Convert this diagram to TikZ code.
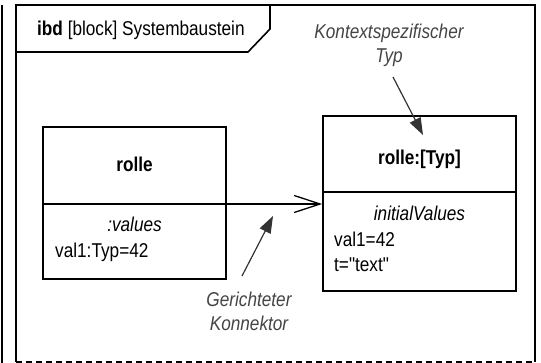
\documentclass[tikz,border=0pt]{standalone}
\usepackage{fontspec}
\setmainfont{Liberation Sans}[FakeStretch=0.86,Ligatures=TeXOff]
\usetikzlibrary{arrows.meta}
\definecolor{notegray}{HTML}{444444}
\definecolor{arrowgray}{HTML}{333333}
\begin{document}
\begin{tikzpicture}[x=1pt,y=-1pt,
  frameline/.style={line width=1.6pt,black},
  box/.style={draw,line width=1.6pt,inner sep=0pt},
  txt/.style={font=\fontsize{20}{22}\selectfont,inner sep=0pt},
  note/.style={txt,text=notegray,font=\fontsize{20}{22}\selectfont\itshape,anchor=base},
  notearrow/.style={line width=1.2pt,arrowgray,-{Triangle[length=17pt,width=12pt]}},
  connector/.style={line width=1.3pt,-{Straight Barb[length=26pt,width=17pt,line width=1.3pt]}}]
\useasboundingbox (0,0) rectangle (541,363);
% outer frame
\draw[line width=2pt] (1.8,5) -- (1.8,363);
\draw[frameline] (16,362) -- (16,5) -- (535,5) -- (535,362);
\draw[line width=1.6pt,dash pattern=on 6pt off 4pt] (16,362) -- (535,362);
% header tab
\draw[frameline] (16,52) -- (248,52) -- (270,29) -- (270,5);
\node[txt,anchor=base west] (title) at (37,36) {\textbf{ibd} [block] Systembaustein};
% left block
\node[box,minimum width=183pt,minimum height=152pt] (rolle) at (134.5,203) {};
\draw[line width=1.6pt] (rolle.west |- 0,204) -- (rolle.east |- 0,204);
\node[txt,anchor=base] (rolleName) at (134.5,172) {\textbf{rolle}};
\node[txt,anchor=base] (rolleComp) at (134.5,232) {\itshape :values};
\node[txt,anchor=base west] (rolleVal) at (55,258) {val1:Typ=42};
% right block
\node[box,minimum width=193pt,minimum height=175pt] (rtyp) at (419.5,203.5) {};
\draw[line width=1.6pt] (rtyp.west |- 0,192) -- (rtyp.east |- 0,192);
\node[txt,anchor=base] (rtypName) at (419.5,165) {\textbf{rolle:[Typ]}};
\node[txt,anchor=base] (rtypComp) at (419.5,221) {\itshape initialValues};
\node[txt,anchor=base west] (rtypVal1) at (334,247) {val1=42};
\node[txt,anchor=base west] (rtypVal2) at (334,272) {t="text"};
% directed connector
\draw[connector] (rolle.east |- 0,204) -- (rtyp.west |- 0,204);
% notes
\node[note] (kt1) at (389,39) {Kontextspezifischer};
\node[note] (kt2) at (389,63) {Typ};
\coordinate (kttip) at (423,135);
\draw[notearrow] (393,77) -- (kttip);
\node[note] (gk1) at (249,307) {Gerichteter};
\node[note] (gk2) at (249,331) {Konnektor};
\coordinate (gktip) at (273,216);
\draw[notearrow] (242,276) -- (gktip);
\end{tikzpicture}
\end{document}
